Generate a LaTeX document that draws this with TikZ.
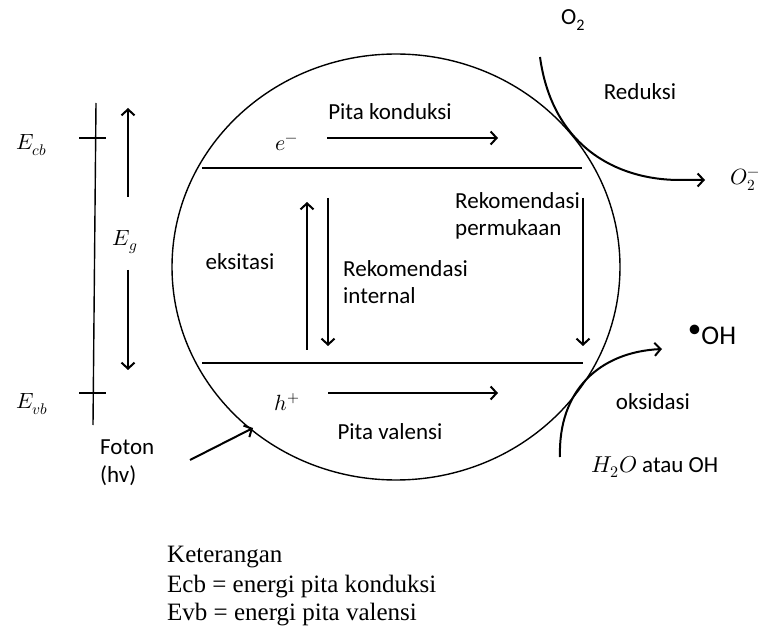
\documentclass[tikz,border=0pt]{standalone}
\usepackage{fontspec}
\usepackage{unicode-math}
\setmainfont{Liberation Serif}
\setmathfont{Latin Modern Math}
\newfontfamily\calibri{Carlito}
\usetikzlibrary{arrows.meta,shapes.geometric}
\tikzset{
  lbl/.style={font=\calibri\fontsize{23}{27.5}\selectfont, inner sep=0pt},
  mth/.style={font=\fontsize{22}{26}\selectfont, inner sep=0pt},
  note/.style={font=\fontsize{25}{29}\selectfont, inner sep=0pt, anchor=west},
  thin line/.style={line width=1.4pt},
  arr/.style={line width=2pt, -{Straight Barb[length=6pt,width=13pt,line width=2pt]}},
}
\begin{document}
\begin{tikzpicture}[x=1pt,y=-1pt]
\useasboundingbox (0,0) rectangle (764,631);

% particle
\node[draw, ellipse, line width=1.4pt, minimum width=448pt, minimum height=426pt, inner sep=0pt] (particle) at (396,267) {};

% band edges
\coordinate (cbL) at (202,168); \coordinate (cbR) at (582,168);
\coordinate (vbL) at (202,363); \coordinate (vbR) at (583,363);
\draw[thin line] (cbL) -- (cbR);
\draw[thin line] (vbL) -- (vbR);

% conduction band
\node[mth] (em) at (287,145) {$e^{-}$};
\node[lbl] (pk) at (390,112) {Pita konduksi};
\coordinate (cbA1) at (327,138); \coordinate (cbA2) at (498,138);
\draw[arr] (cbA1) -- (cbA2);

% valence band
\node[mth] (hp) at (287,402) {$h^{+}$};
\node[lbl] (pv) at (390,432) {Pita valensi};
\coordinate (vbA1) at (328,393); \coordinate (vbA2) at (498,393);
\draw[arr] (vbA1) -- (vbA2);

% excitation & recombination
\coordinate (exB) at (307,350); \coordinate (exT) at (307,202);
\draw[arr] (exB) -- (exT);
\node[lbl] (eks) at (240,262) {eksitasi};
\coordinate (riT) at (328,198); \coordinate (riB) at (328,346);
\draw[arr] (riT) -- (riB);
\node[lbl, anchor=north west, align=left] (ri) at (343,260) {Rekomendasi\\internal};
\coordinate (rpT) at (583,198); \coordinate (rpB) at (583,346);
\draw[arr] (rpT) -- (rpB);
\node[lbl, anchor=north west, align=left] (rp) at (455,192) {Rekomendasi\\permukaan};

% energy axis
\coordinate (axT) at (96,103); \coordinate (axB) at (93,425);
\draw[thin line] (axT) -- (axB);
\coordinate (tc1) at (79,138); \coordinate (tc2) at (106,138);
\coordinate (tv1) at (79,393); \coordinate (tv2) at (106,393);
\draw[thin line] (tc1) -- (tc2);
\draw[thin line] (tv1) -- (tv2);
\node[mth] (Ecb) at (32,145) {$E_{cb}$};
\node[mth] (Evb) at (32,404) {$E_{vb}$};
\node[mth] (Eg) at (125,242) {$E_{g}$};
\coordinate (egU1) at (128,197); \coordinate (egU2) at (128,108);
\coordinate (egD1) at (128,270); \coordinate (egD2) at (128,370);
\draw[arr] (egU1) -- (egU2);
\draw[arr] (egD1) -- (egD2);

% photon
\node[lbl, anchor=north west, align=left] (foton) at (100,440) {Foton\\(hv)};
\coordinate (phS) at (190,460); \coordinate (phE) at (253,428);
\draw[arr] (phS) -- (phE);

% reduction
\node[lbl] (o2) at (573,20) {O\textsubscript{2}};
\node[lbl] (red) at (640,92) {Reduksi};
\node[mth] (o2m) at (745,180) {$O_2^{-}$};
\coordinate (rdS) at (540,57); \coordinate (rdM) at (680,180); \coordinate (rdE) at (705,180);
\draw[arr] (rdS) .. controls (552,145) and (615,180) .. (rdM) -- (rdE);

% oxidation
\node[lbl, font=\calibri\fontsize{27}{30}\selectfont] (oh) at (712,335) {\raisebox{0.55ex}{\textbullet}OH};
\node[lbl] (oks) at (653,402) {oksidasi};
\node[lbl] (h2o) at (655,467) {$H_2O$ atau OH};
\coordinate (oxS) at (560,457); \coordinate (oxE) at (662,349);
\draw[arr] (oxS) .. controls (558,390) and (600,352) .. (oxE);

% legend
\node[note] (k1) at (167,557) {Keterangan};
\node[note] (k2) at (167,587) {Ecb = energi pita konduksi};
\node[note] (k3) at (167,615) {Evb = energi pita valensi};
\end{tikzpicture}
\end{document}
